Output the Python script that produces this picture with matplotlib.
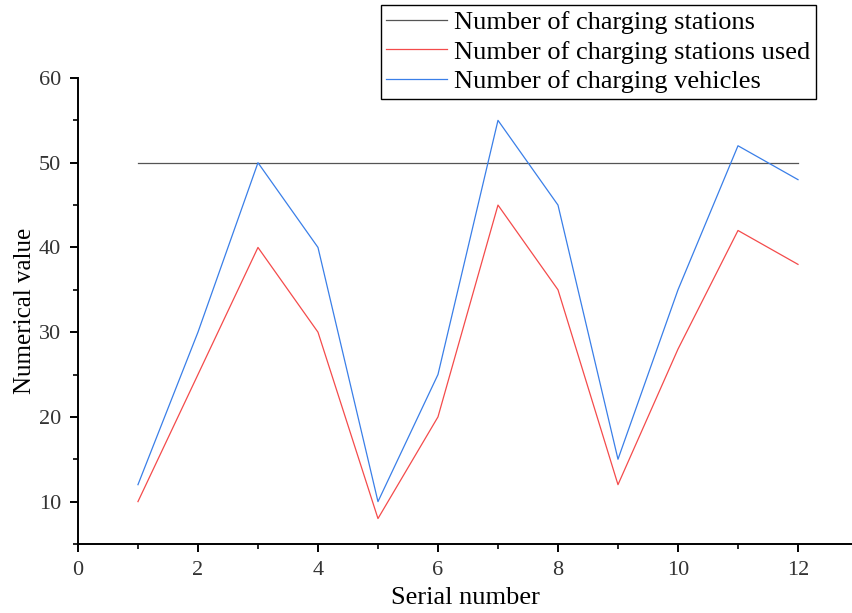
"""Charging stations vs. used stations vs. vehicles, per serial number."""

import matplotlib
matplotlib.use("Agg")
import matplotlib.pyplot as plt
from matplotlib.ticker import MultipleLocator

serial = [1, 2, 3, 4, 5, 6, 7, 8, 9, 10, 11, 12]
stations = [50, 50, 50, 50, 50, 50, 50, 50, 50, 50, 50, 50]
stations_used = [10, 25, 40, 30, 8, 20, 45, 35, 12, 28, 42, 38]
vehicles = [12, 30, 50, 40, 10, 25, 55, 45, 15, 35, 52, 48]

labels = [
	"Number of charging stations",
	"Number of charging stations used",
	"Number of charging vehicles",
]
colors = ["#555555", "#f44b4b", "#3a7fe8"]

plt.rcParams["font.family"] = ["Liberation Serif", "DejaVu Serif"]


def main():
	fig = plt.figure(figsize=(8.52, 6.13), dpi=100)
	ax = fig.add_axes([0.0915, 0.1126, 0.9085, 0.7602])

	for ys, lab, col in zip([stations, stations_used, vehicles], labels, colors):
		ax.plot(serial, ys, color=col, lw=0.9, label=lab)

	ax.set_xlim(0, 12.9)
	ax.set_ylim(5, 60)
	ax.xaxis.set_major_locator(MultipleLocator(2))
	ax.xaxis.set_minor_locator(MultipleLocator(1))
	ax.yaxis.set_major_locator(MultipleLocator(10))
	ax.yaxis.set_minor_locator(MultipleLocator(5))
	ax.set_yticks([10, 20, 30, 40, 50, 60])

	for side in ("top", "right"):
		ax.spines[side].set_visible(False)
	for side in ("left", "bottom"):
		ax.spines[side].set_linewidth(1.4)
	ax.tick_params(which="major", direction="out", length=6, width=1.4,
				   labelsize=16, labelcolor="#333333", pad=6)
	ax.tick_params(which="minor", direction="out", length=3.5, width=1.2)

	ax.set_xlabel("Serial number", fontsize=19, labelpad=5)
	ax.set_ylabel("Numerical value", fontsize=18, labelpad=2)

	fig.legend(loc="upper right", bbox_to_anchor=(0.9577, 0.9918),
			   fontsize=19, frameon=True, fancybox=False, framealpha=1,
			   edgecolor="black", handlelength=2.3, handletextpad=0.3,
			   borderpad=0.2, labelspacing=0.24, borderaxespad=0)

	fig.savefig("out.png", dpi=100)


if __name__ == "__main__":
	main()
